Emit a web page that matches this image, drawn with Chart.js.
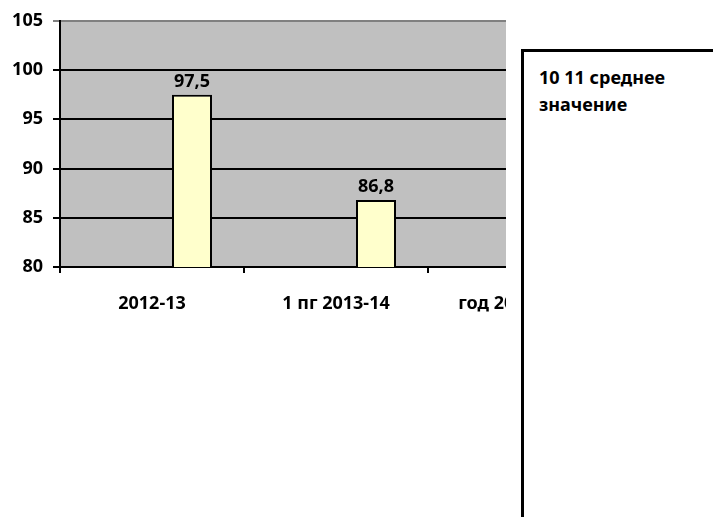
<!DOCTYPE html>
<html>
<head>
<meta charset="utf-8">
<script src="https://cdn.jsdelivr.net/npm/chart.js@4.4.1/dist/chart.umd.min.js"></script>
<style>
  body { margin: 0; background: #fff; width: 713px; height: 517px; overflow: hidden; position: relative; }
  #wrap { position: absolute; left: 0; top: 0; width: 506px; height: 517px; overflow: hidden; }
  #legend {
    position: absolute; left: 521px; top: 49px; width: 300px; height: 600px;
    border: 3px solid #000; background: #fff; box-sizing: border-box;
    padding: 12px 0 0 15px;
    font: bold 18px "Noto Sans", sans-serif; line-height: 27px; color: #000;
  }
</style>
</head>
<body>
<div id="wrap"><canvas id="chart" width="620" height="517"></canvas></div>
<div id="legend"></div>
<script>
// data
var categories = ['2012-13', '1 пг 2013-14', 'год 2013-2014'];
var avgValues = [97.5, 86.8, null];
var yTicks = [80, 85, 90, 95, 100, 105];
var avgLabel = '10 11 среднее значение';

document.getElementById('legend').innerHTML = '10 11 среднее<br>значение';

var font = { family: '"Noto Sans", sans-serif', size: 18, weight: 'bold' };

// gray plot background
var plotBg = {
    id: 'plotBg',
    beforeDraw: function (chart) {
        var a = chart.chartArea, c = chart.ctx;
        c.save();
        c.fillStyle = '#c0c0c0';
        c.fillRect(a.left, a.top, a.right - a.left, a.bottom - a.top);
        c.restore();
    }
};

// value labels above the bars
var valueLabels = {
    id: 'valueLabels',
    afterDatasetsDraw: function (chart) {
        var c = chart.ctx;
        var meta = chart.getDatasetMeta(2);
        c.save();
        c.font = 'bold 18px "Noto Sans", sans-serif';
        c.fillStyle = '#000';
        c.textAlign = 'center';
        c.textBaseline = 'alphabetic';
        meta.data.forEach(function (bar, i) {
            var v = avgValues[i];
            if (v == null) return;
            c.fillText(String(v).replace('.', ','), bar.x, bar.y - 8);
        });
        c.restore();
    }
};

var ctx = document.getElementById('chart').getContext('2d');
var myChart = new Chart(ctx, {
    type: 'bar',
    data: {
        labels: categories,
        datasets: [
            { label: '', data: [] },
            { label: '', data: [] },
            {
                label: avgLabel,
                data: avgValues,
                backgroundColor: '#ffffcc',
                borderColor: '#000',
                borderWidth: 2,
                borderSkipped: false
            }
        ]
    },
    options: {
        responsive: false,
        animation: false,
        events: [],
        categoryPercentage: 120 / 184,
        barPercentage: 1,
        layout: { padding: { top: 19, right: 8, left: 0, bottom: 0 } },
        plugins: { legend: { display: false }, tooltip: { enabled: false } },
        scales: {
            x: {
                grid: { drawOnChartArea: false, color: '#000', lineWidth: 2, tickLength: 6 },
                border: { color: '#000', width: 2 },
                ticks: { color: '#000', font: font, padding: 20, maxRotation: 0, autoSkip: false },
                afterFit: function (s) { s.height = 250; }
            },
            y: {
                min: yTicks[0],
                max: yTicks[yTicks.length - 1],
                grid: {
                    color: function (c) { return c.tick && c.tick.value === 105 ? '#808080' : '#000'; },
                    lineWidth: 2,
                    tickLength: 7
                },
                border: { color: '#000', width: 2 },
                ticks: { color: '#000', font: font, padding: 10, stepSize: 5 },
                afterFit: function (s) { s.width = 60; }
            }
        }
    },
    plugins: [plotBg, valueLabels]
});
</script>
</body>
</html>
